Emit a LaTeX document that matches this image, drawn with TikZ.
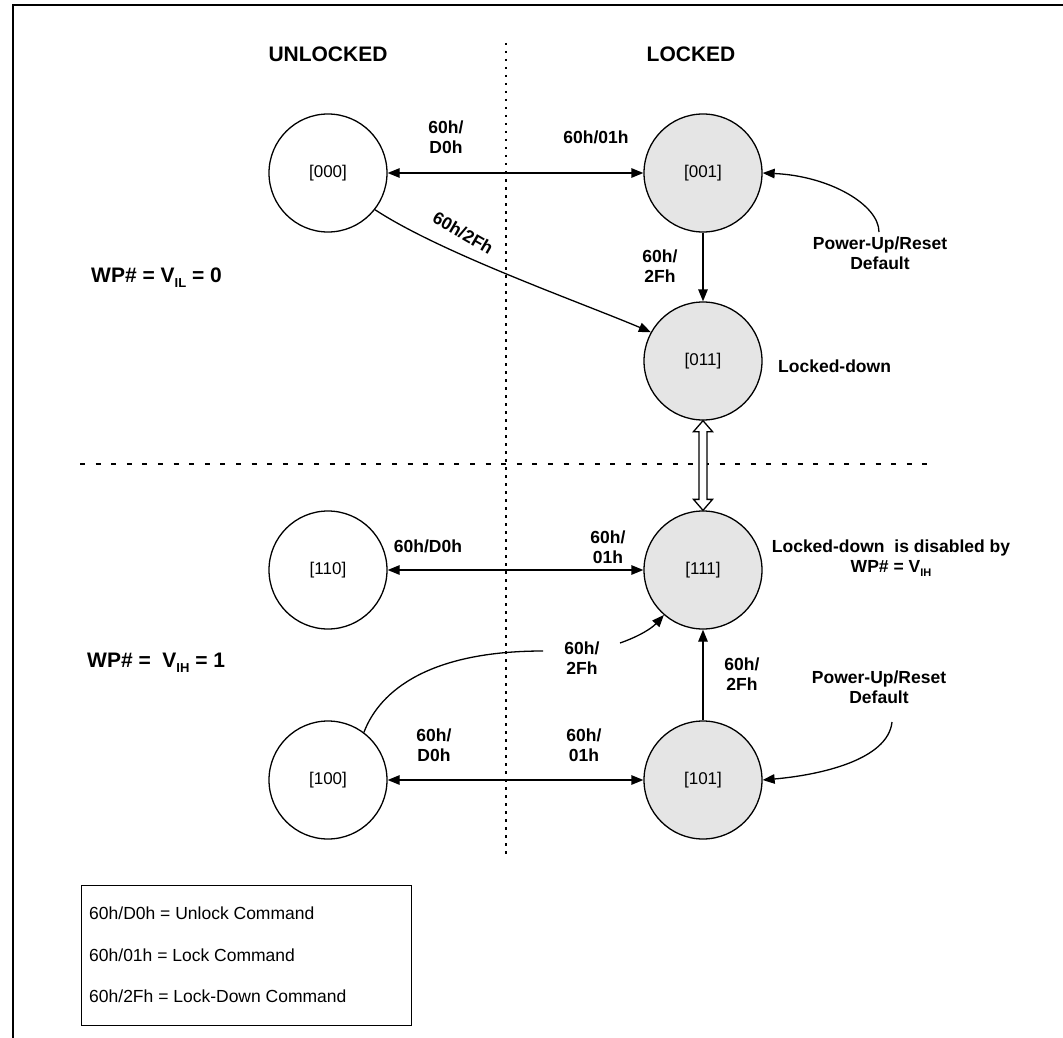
\documentclass[tikz,border=0pt]{standalone}
\usepackage{fontspec}
\setmainfont{Liberation Sans}
\usetikzlibrary{arrows.meta,calc}
\definecolor{lockgray}{RGB}{229,229,229}
\newcommand{\mysubh}[1]{\raisebox{-0.45ex}{\fontsize{13}{13}\selectfont #1}}
\newcommand{\mysubl}[1]{\raisebox{-0.45ex}{\fontsize{11}{11}\selectfont #1}}
\begin{document}
\begin{tikzpicture}[x=1pt,y=-1pt,
  state/.style={circle,draw,line width=1.3pt,minimum size=118pt,inner sep=0pt,font=\fontsize{17}{20}\selectfont},
  locked/.style={state,fill=lockgray},
  lbl/.style={font=\bfseries\fontsize{17.5}{20.5}\selectfont,align=center,inner sep=0pt},
  head/.style={font=\bfseries\fontsize{21}{24}\selectfont,inner sep=0pt},
  conn/.style={line width=1.3pt,-{Triangle[length=12pt,width=9.5pt]}},
  biconn/.style={line width=1.3pt,{Triangle[length=12pt,width=9.5pt]}-{Triangle[length=12pt,width=9.5pt]}},
  plain/.style={line width=1.3pt},
  legtext/.style={font=\fontsize{17.5}{20}\selectfont,anchor=west,inner sep=0pt}
]
\useasboundingbox (0,0) rectangle (1063,1038);
\fill[white] (0,0) rectangle (1063,1038);
% frame
\draw[line width=2.7pt] (13,1038) -- (13,5) -- (1063,5);
% separators
\draw[line width=1.3pt, dash pattern=on 2.5pt off 5.5pt] (506,43) -- (506,855);
\draw[line width=2.5pt, dash pattern=on 5pt off 10.6pt] (80,464) -- (932,464);
% headings
\node[head] (hu) at (328,54) {UNLOCKED};
\node[head] (hl) at (691,54) {LOCKED};
\node[head,anchor=west] (wp0) at (91,278) {WP\# = V\mysubh{IL} = 0};
\node[head,anchor=west] (wp1) at (87,663) {WP\# =\ \ V\mysubh{IH} = 1};
% states
\node[state]  (s000) at (328,173) {[000]};
\node[locked] (s001) at (703,173) {[001]};
\node[locked] (s011) at (703,361) {[011]};
\node[state]  (s110) at (328,570) {[110]};
\node[locked] (s111) at (703,570) {[111]};
\node[state]  (s100) at (328,780) {[100]};
\node[locked] (s101) at (703,780) {[101]};
% upper half
\draw[biconn] (s000) -- (s001);
\node[lbl] (l1) at (446,137) {60h/\\D0h};
\node[lbl] (l2) at (596,137) {60h/01h};
\draw[conn] (s000.-38) .. controls (441,253) and (577,301) .. (s011.151);
\node[lbl,rotate=-30] (l3) at (463,233) {60h/2Fh};
\draw[conn] (s001) -- (s011);
\node[lbl] (l4) at (660,266) {60h/\\2Fh};
\node[lbl] (pu1) at (880,253) {Power-Up/Reset\\Default};
\coordinate (pu1s) at (879,232);
\draw[conn] (pu1s) .. controls (879,205) and (830,176) .. (s001.east);
\node[lbl,anchor=west] (ld) at (778,366) {Locked-down};
% hollow double arrow
\draw[line width=1.3pt,fill=white] (s011.south) -- ++(9.5,11) -- ++(-5.5,0)
  -- ($(s111.north)+(4,-11)$) -- ++(5.5,0) -- (s111.north) -- ++(-9.5,-11) -- ++(5.5,0)
  -- ($(s011.south)+(-4,11)$) -- ++(-5.5,0) -- cycle;
\node[lbl] (ld2) at (891,558) {Locked-down\ \ is disabled by\\WP\# = V\mysubl{IH}};
% lower half
\draw[biconn] (s110) -- (s111);
\node[lbl] (l5) at (428,546) {60h/D0h};
\node[lbl] (l6) at (608,547) {60h/\\01h};
\node[lbl] (l7) at (582,658) {60h/\\2Fh};
\coordinate (c1) at (543,651);
\coordinate (c2) at (620,643);
\draw[plain] (s100.53) .. controls (380,690) and (430,651) .. (c1);
\draw[conn] (c2) .. controls (640,636) and (652,628) .. (s111.229);
\draw[conn] (s101) -- (s111);
\node[lbl] (l8) at (742,674) {60h/\\2Fh};
\draw[biconn] (s100) -- (s101);
\node[lbl] (l9) at (434,745) {60h/\\D0h};
\node[lbl] (l10) at (584,745) {60h/\\01h};
\node[lbl] (pu2) at (879,687) {Power-Up/Reset\\Default};
\coordinate (pu2s) at (892,722);
\draw[conn] (pu2s) .. controls (888,760) and (820,775) .. (s101.east);
% legend
\node[draw,line width=1.3pt,minimum width=330pt,minimum height=140pt,inner sep=0pt,anchor=north west] (leg) at (81,885) {};
\node[legtext] (lg1) at (89,913) {60h/D0h = Unlock Command};
\node[legtext] (lg2) at (89,955) {60h/01h = Lock Command};
\node[legtext] (lg3) at (89,996) {60h/2Fh = Lock-Down Command};
\end{tikzpicture}
\end{document}
